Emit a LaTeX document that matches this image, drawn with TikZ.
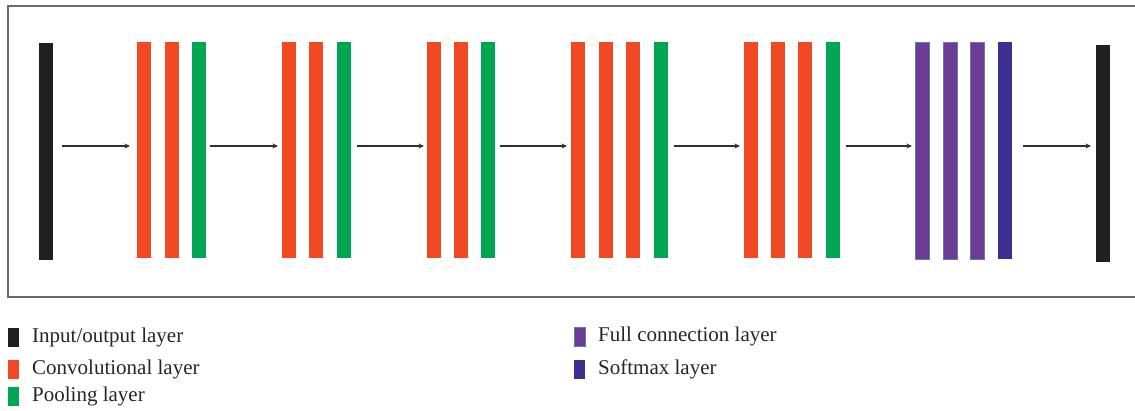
\documentclass[tikz,border=0pt]{standalone}
\usepackage{fontspec}
\setmainfont{Liberation Serif}
\usetikzlibrary{arrows.meta}
\definecolor{iocol}{HTML}{231F20}
\definecolor{convcol}{HTML}{F04923}
\definecolor{poolcol}{HTML}{00A651}
\definecolor{fccol}{HTML}{6D3A94}
\definecolor{fcedge}{HTML}{5A7FB5}
\definecolor{smcol}{HTML}{3C2F92}
\definecolor{framecol}{HTML}{6A6A6A}
\definecolor{arrcol}{HTML}{303030}
\tikzset{
  bar/.style={anchor=north west, inner sep=0pt, outer sep=0pt, minimum width=14pt, draw=none},
  iobar/.style={bar, fill=iocol, minimum height=217pt},
  conv/.style={bar, fill=convcol, minimum height=216pt},
  pool/.style={bar, fill=poolcol, minimum height=216pt},
  fc/.style={bar, fill=fccol, draw=fcedge, line width=0.8pt, minimum width=14pt, minimum height=217pt},
  sm/.style={bar, fill=smcol, minimum height=217pt},
  arr/.style={draw=arrcol, line width=1.2pt, -{Stealth[length=5.5pt,width=5pt]}},
  key/.style={anchor=north west, inner sep=0pt, outer sep=0pt, minimum width=11pt, minimum height=19pt},
  lbl/.style={anchor=base west, inner sep=0pt, font=\fontsize{21}{24}\selectfont, text=black!85}
}
\begin{document}
\begin{tikzpicture}[x=1pt,y=-1pt]
\useasboundingbox (0,0) rectangle (1135,411);
\draw[framecol, line width=1.5pt] (1140,6) -- (8,6) -- (8,297) -- (1140,297);
\coordinate (ay) at (0,146);
% bars
\node[iobar] (in) at (39,43) {};
\node[conv] (c11) at (137,42) {};
\node[conv] (c12) at (165,42) {};
\node[pool] (p1) at (192,42) {};
\node[conv] (c21) at (282,42) {};
\node[conv] (c22) at (309,42) {};
\node[pool] (p2) at (337,42) {};
\node[conv] (c31) at (427,42) {};
\node[conv] (c32) at (454,42) {};
\node[pool] (p3) at (481,42) {};
\node[conv] (c41) at (571,42) {};
\node[conv] (c42) at (599,42) {};
\node[conv] (c43) at (626,42) {};
\node[pool] (p4) at (654,42) {};
\node[conv] (c51) at (744,42) {};
\node[conv] (c52) at (771,42) {};
\node[conv] (c53) at (798,42) {};
\node[pool] (p5) at (826,42) {};
\node[fc] (f1) at (915,42) {};
\node[fc] (f2) at (943,42) {};
\node[fc] (f3) at (970,42) {};
\node[sm] (sm) at (998,42) {};
\node[iobar] (out) at (1096,45) {};
% arrows
\draw[arr] ([xshift=9pt]in.east |- ay) -- ([xshift=-7pt]c11.west |- ay);
\draw[arr] ([xshift=4pt]p1.east |- ay) -- ([xshift=-4pt]c21.west |- ay);
\draw[arr] ([xshift=6pt]p2.east |- ay) -- ([xshift=-3pt]c31.west |- ay);
\draw[arr] ([xshift=5pt]p3.east |- ay) -- ([xshift=-4pt]c41.west |- ay);
\draw[arr] ([xshift=6pt]p4.east |- ay) -- ([xshift=-4pt]c51.west |- ay);
\draw[arr] ([xshift=6pt]p5.east |- ay) -- ([xshift=-3pt]f1.west |- ay);
\draw[arr] ([xshift=11pt]sm.east |- ay) -- ([xshift=-5pt]out.west |- ay);
% legend
\node[key, fill=iocol] (k1) at (8,328) {};
\node[lbl] (t1) at (32,343) {Input/output layer};
\node[key, fill=convcol] (k2) at (8,360) {};
\node[lbl] (t2) at (32,375) {Convolutional layer};
\node[key, fill=poolcol] (k3) at (8,387) {};
\node[lbl] (t3) at (32,402) {Pooling layer};
\node[key, fill=fccol, draw=fcedge, line width=0.8pt] (k4) at (574,327) {};
\node[lbl] (t4) at (598,342) {Full connection layer};
\node[key, fill=smcol] (k5) at (574,360) {};
\node[lbl] (t5) at (598,374) {Softmax layer};
\end{tikzpicture}
\end{document}
